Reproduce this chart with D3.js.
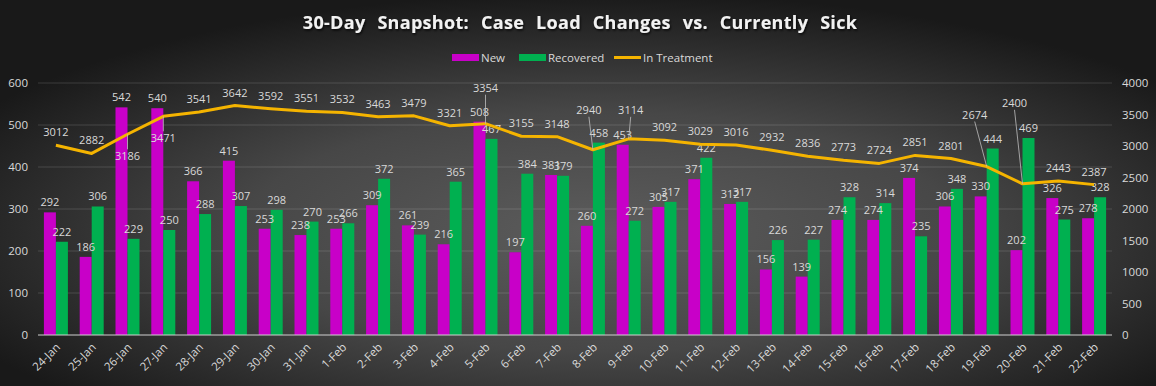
<html>
<head>
<meta charset="utf-8">
<title>30-Day Snapshot</title>
<script src="https://cdn.jsdelivr.net/npm/d3@7/dist/d3.min.js"></script>
<style>
    body { margin: 0; background: #2a2a2a; }
    text { font-family: "Open Sans", "Liberation Sans", sans-serif; }
</style>
</head>
<body>
<div id="chart"></div>
<script type="text/javascript">
    // Data ***********************
    var days = ["24-Jan", "25-Jan", "26-Jan", "27-Jan", "28-Jan", "29-Jan", "30-Jan", "31-Jan",
        "1-Feb", "2-Feb", "3-Feb", "4-Feb", "5-Feb", "6-Feb", "7-Feb", "8-Feb", "9-Feb", "10-Feb",
        "11-Feb", "12-Feb", "13-Feb", "14-Feb", "15-Feb", "16-Feb", "17-Feb", "18-Feb", "19-Feb",
        "20-Feb", "21-Feb", "22-Feb"];
    var newCases = [292, 186, 542, 540, 366, 415, 253, 238, 253, 309, 261, 216, 508, 197, 381,
        260, 453, 305, 371, 312, 156, 139, 274, 274, 374, 306, 330, 202, 326, 278];
    var recovered = [222, 306, 229, 250, 288, 307, 298, 270, 266, 372, 239, 365, 467, 384, 379,
        458, 272, 317, 422, 317, 226, 227, 328, 314, 235, 348, 444, 469, 275, 328];
    var inTreatment = [3012, 2882, 3186, 3471, 3541, 3642, 3592, 3551, 3532, 3463, 3479, 3321,
        3354, 3155, 3148, 2940, 3114, 3092, 3029, 3016, 2932, 2836, 2773, 2724, 2851, 2801,
        2674, 2400, 2443, 2387];
    var leftTicks = [0, 100, 200, 300, 400, 500, 600];
    var rightTicks = [0, 500, 1000, 1500, 2000, 2500, 3000, 3500, 4000];

    // labels that were dragged away from their point (index: [dx, dy] of label centre)
    var movedLabels = {2: [0, 22], 3: [0, 22], 12: [0, -36], 15: [-4, -40], 16: [2, -29],
        26: [-12, -52], 27: [-8, -81]};

    var colors = {New: "#c800c8", Recovered: "#00b050", line: "#f5b400"};

    // Layout ***********************
    var W = 1156, H = 386;
    var plot = {left: 38, right: 1112, top: 83, bottom: 335};

    var svg = d3.select("#chart").append("svg")
        .attr("width", W)
        .attr("height", H);

    var defs = svg.append("defs");
    var grad = defs.append("radialGradient")
        .attr("id", "bg")
        .attr("cx", "52%").attr("cy", "60%").attr("r", "62%");
    grad.append("stop").attr("offset", "0%").attr("stop-color", "#5c5c5c");
    grad.append("stop").attr("offset", "50%").attr("stop-color", "#474747");
    grad.append("stop").attr("offset", "100%").attr("stop-color", "#191919");

    var shadow = defs.append("filter").attr("id", "shadow");
    shadow.append("feDropShadow")
        .attr("dx", 1).attr("dy", 1.5).attr("stdDeviation", 1)
        .attr("flood-color", "#000").attr("flood-opacity", 0.8);

    svg.append("rect")
        .attr("width", W).attr("height", H)
        .attr("fill", "url(#bg)");

    // scales
    var x0 = d3.scaleBand()
        .domain(days)
        .range([plot.left, plot.right])
        .paddingInner(0.33)
        .paddingOuter(0.165);
    var x1 = d3.scaleBand()
        .domain(["New", "Recovered"])
        .range([0, x0.bandwidth()]);
    var yL = d3.scaleLinear().domain([0, 600]).range([plot.bottom, plot.top]);
    var yR = d3.scaleLinear().domain([0, 4000]).range([plot.bottom, plot.top]);

    function cx(d) { return x0(d) + x0.bandwidth() / 2; }

    // gridlines
    svg.append("g")
        .selectAll("line")
        .data(leftTicks.slice(1))
        .enter().append("line")
        .attr("x1", plot.left).attr("x2", plot.right)
        .attr("y1", function (d) { return yL(d); })
        .attr("y2", function (d) { return yL(d); })
        .attr("stroke", "#ffffff").attr("stroke-opacity", 0.14).attr("stroke-width", 1);

    // axes
    var leftAxis = svg.append("g")
        .attr("transform", "translate(" + plot.left + ",0)")
        .call(d3.axisLeft(yL).tickValues(leftTicks).tickSize(0).tickPadding(10));
    var rightAxis = svg.append("g")
        .attr("transform", "translate(" + plot.right + ",0)")
        .call(d3.axisRight(yR).tickValues(rightTicks).tickFormat(d3.format("d"))
            .tickSize(0).tickPadding(10));
    [leftAxis, rightAxis].forEach(function (a) {
        a.select(".domain").remove();
        a.selectAll("text").attr("fill", "#d9d9d9").style("font-size", "11.5px");
    });

    var bottomAxis = svg.append("g")
        .attr("transform", "translate(0," + plot.bottom + ")")
        .call(d3.axisBottom(x0).tickSize(0).tickPadding(0));
    bottomAxis.select(".domain").remove();
    bottomAxis.selectAll("text")
        .attr("fill", "#d9d9d9")
        .style("font-size", "11.5px")
        .attr("text-anchor", "end")
        .attr("dy", 0)
        .attr("transform", "translate(5,13) rotate(-45)");

    // bars
    var groups = svg.append("g")
        .selectAll("g")
        .data(days)
        .enter().append("g")
        .attr("transform", function (d) { return "translate(" + x0(d) + ",0)"; });

    var barData = function (d, i) {
        return [{key: "New", value: newCases[i]}, {key: "Recovered", value: recovered[i]}];
    };

    groups.selectAll("rect")
        .data(barData)
        .enter().append("rect")
        .attr("x", function (d) { return x1(d.key); })
        .attr("width", x1.bandwidth())
        .attr("y", function (d) { return yL(d.value); })
        .attr("height", function (d) { return plot.bottom - yL(d.value); })
        .attr("fill", function (d) { return colors[d.key]; });

    // baseline
    svg.append("line")
        .attr("x1", plot.left).attr("x2", plot.right)
        .attr("y1", plot.bottom).attr("y2", plot.bottom)
        .attr("stroke", "#d0d0d0").attr("stroke-width", 1.2);

    // line series
    var line = d3.line()
        .x(function (d, i) { return cx(days[i]); })
        .y(function (d) { return yR(d); });

    svg.append("path")
        .datum(inTreatment)
        .attr("fill", "none")
        .attr("stroke", colors.line)
        .attr("stroke-width", 3)
        .attr("stroke-linejoin", "round")
        .attr("d", line);

    // bar labels
    groups.selectAll("text.bar")
        .data(barData)
        .enter().append("text")
        .attr("class", "bar")
        .attr("x", function (d) { return x1(d.key) + x1.bandwidth() / 2; })
        .attr("y", function (d) { return yL(d.value) - 6; })
        .attr("text-anchor", "middle")
        .attr("fill", "#d9d9d9")
        .style("font-size", "11px")
        .text(function (d) { return d.value; });

    // line labels with leader lines
    var lineLabels = svg.append("g");
    inTreatment.forEach(function (v, i) {
        var px = cx(days[i]), py = yR(v);
        var off = movedLabels[i] || [0, -13];
        var lx = px + off[0], ly = py + off[1];
        if (movedLabels[i]) {
            var sy = ly + (off[1] > 0 ? -7 : 7);
            lineLabels.append("line")
                .attr("x1", lx).attr("y1", sy)
                .attr("x2", px).attr("y2", py)
                .attr("stroke", "#bfbfbf").attr("stroke-width", 0.8);
        }
        lineLabels.append("text")
            .attr("x", lx).attr("y", ly + 4)
            .attr("text-anchor", "middle")
            .attr("fill", "#d9d9d9")
            .style("font-size", "11px")
            .text(v);
    });

    // title
    svg.append("text")
        .attr("x", W / 2 + 2).attr("y", 29)
        .attr("text-anchor", "middle")
        .attr("fill", "#f2f2f2")
        .attr("filter", "url(#shadow)")
        .style("font-size", "18px")
        .style("font-weight", "bold")
        .style("word-spacing", "7px")
        .style("letter-spacing", "0.3px")
        .text("30-Day Snapshot:  Case Load Changes vs. Currently Sick");

    // legend
    var legendItems = [
        {name: "New", type: "rect", color: colors.New, x: 452},
        {name: "Recovered", type: "rect", color: colors.Recovered, x: 519},
        {name: "In Treatment", type: "line", color: colors.line, x: 614}
    ];
    var legend = svg.append("g");
    legendItems.forEach(function (d) {
        if (d.type === "rect") {
            legend.append("rect")
                .attr("x", d.x).attr("y", 54).attr("width", 27).attr("height", 7)
                .attr("fill", d.color);
        } else {
            legend.append("line")
                .attr("x1", d.x).attr("x2", d.x + 27)
                .attr("y1", 57.5).attr("y2", 57.5)
                .attr("stroke", d.color).attr("stroke-width", 3);
        }
        legend.append("text")
            .attr("x", d.x + 29).attr("y", 61.5)
            .attr("fill", "#d9d9d9")
            .style("font-size", "11.5px")
            .text(d.name);
    });
</script>
</body>
</html>
